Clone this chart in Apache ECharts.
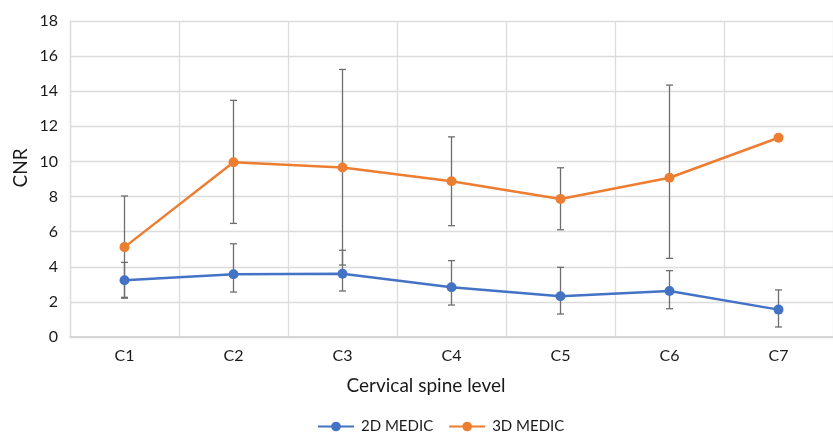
<!DOCTYPE html>
<html><head><meta charset="utf-8">
<script src="https://cdn.jsdelivr.net/npm/echarts@6/dist/echarts.min.js"></script>
<style>html,body{margin:0;padding:0;background:#fff}#c{width:833px;height:434px}</style>
</head><body><div id="c"></div>
<script>
const categories = ['C1','C2','C3','C4','C5','C6','C7'];
const yTicks = [0,2,4,6,8,10,12,14,16,18];
const medic2D = [3.23,3.57,3.60,2.83,2.32,2.62,1.56];
const medic2DHigh = [4.25,5.31,4.94,4.35,3.97,3.78,2.68];
const medic2DLow = [2.26,2.56,2.62,1.82,1.31,1.61,0.57];
const medic3D = [5.12,9.95,9.66,8.87,7.86,9.07,11.35];
const medic3DHigh = [8.03,13.48,15.24,11.40,9.64,14.35,null];
const medic3DLow = [2.21,6.47,4.10,6.34,6.11,4.48,null];
const xTitle = 'Cervical spine level';
const yTitle = 'CNR';

const FONT = 'Lato';
function errData(high, low){
  const out = [];
  for (let i=0;i<categories.length;i++){
    if (high[i]!=null && low[i]!=null) out.push([i, low[i], high[i]]);
  }
  return out;
}
function renderErr(params, api){
  const x = api.value(0);
  const lo = api.coord([x, api.value(1)]);
  const hi = api.coord([x, api.value(2)]);
  const w = 3.5;
  const style = {stroke:'#6e6e6e', lineWidth:1.3};
  return {type:'group', children:[
    {type:'line', shape:{x1:lo[0],y1:lo[1],x2:hi[0],y2:hi[1]}, style},
    {type:'line', shape:{x1:lo[0]-w,y1:lo[1],x2:lo[0]+w,y2:lo[1]}, style},
    {type:'line', shape:{x1:hi[0]-w,y1:hi[1],x2:hi[0]+w,y2:hi[1]}, style}
  ]};
}
const chart = echarts.init(document.getElementById('c'));
chart.setOption({
  animation:false,
  textStyle:{fontFamily:FONT},
  grid:{left:70, top:21, width:769, bottom:97, containLabel:false},
  graphic:[
    {type:'text', x:426, y:386, style:{text:xTitle, fontFamily:FONT, fontSize:19, fill:'#1a1a1a', align:'center', verticalAlign:'middle'}},
    {type:'text', x:21, y:168, rotation:Math.PI/2, style:{text:yTitle, fontFamily:FONT, fontSize:19, fill:'#1a1a1a', align:'center', verticalAlign:'middle'}}
  ],
  legend:{
    data:['2D MEDIC','3D MEDIC'], left:312, top:414, padding:5,
    itemWidth:36, itemHeight:12, itemGap:15,
    textStyle:{fontFamily:FONT, fontSize:15, color:'#1a1a1a', padding:[0,0,0,2]}
  },
  xAxis:{
    type:'category', data:categories, boundaryGap:true,
    axisLine:{show:true, lineStyle:{color:'#d0d0d0', width:1.5}},
    axisTick:{show:false},
    axisLabel:{fontFamily:FONT, fontSize:16, color:'#1a1a1a', margin:11},
    splitLine:{show:true, lineStyle:{color:'#dcdcdc', width:1.3}}
  },
  yAxis:{
    type:'value', min:0, max:18, interval:2,
    axisLine:{show:true, lineStyle:{color:'#dcdcdc', width:1.3}},
    axisTick:{show:false},
    axisLabel:{fontFamily:FONT, fontSize:16, color:'#1a1a1a', margin:12,
      formatter:function(v){ return yTicks.indexOf(v)>=0 ? String(v) : ''; }},
    splitLine:{show:true, lineStyle:{color:'#dcdcdc', width:1.3}}
  },
  series:[
    {type:'custom', name:'err2D', renderItem:renderErr, data:errData(medic2DHigh, medic2DLow), z:1, silent:true,
      encode:{x:0,y:[1,2]}},
    {type:'custom', name:'err3D', renderItem:renderErr, data:errData(medic3DHigh, medic3DLow), z:1, silent:true,
      encode:{x:0,y:[1,2]}},
    {type:'line', name:'2D MEDIC', data:medic2D, symbol:'circle', symbolSize:10, z:3,
      itemStyle:{color:'#4472C4'}, lineStyle:{color:'#4472C4', width:2.5}},
    {type:'line', name:'3D MEDIC', data:medic3D, symbol:'circle', symbolSize:10, z:3,
      itemStyle:{color:'#ED7D31'}, lineStyle:{color:'#ED7D31', width:2.5}}
  ]
});
</script></body></html>
